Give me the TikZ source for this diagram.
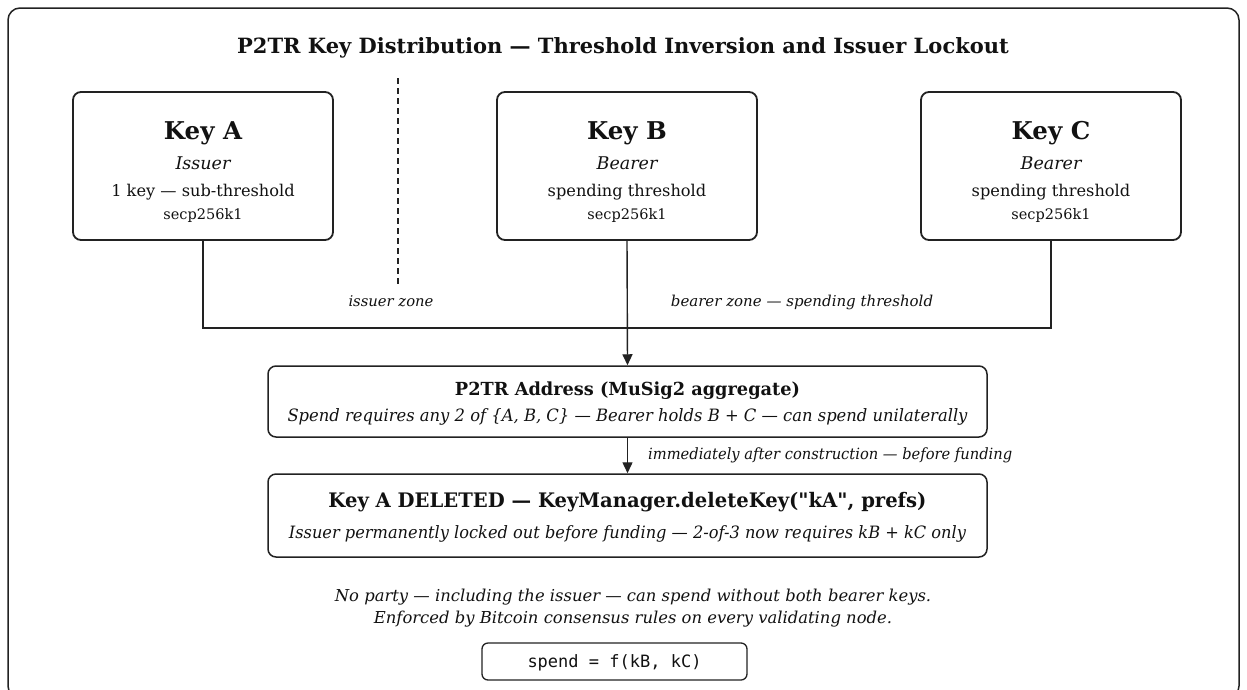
\documentclass[tikz,border=0pt]{standalone}
\usepackage{fontspec}
\usepackage{graphicx}
\setmainfont{DejaVu Serif}[Ligatures=TeXOff]
\setmonofont{DejaVu Sans Mono}
\usetikzlibrary{arrows.meta}
\definecolor{ink}{HTML}{111111}
\definecolor{linec}{HTML}{222222}
\tikzset{
  keybox/.style={draw=linec, line width=1.8pt, rounded corners=8pt, minimum width=260pt, minimum height=148pt, inner sep=0pt},
  widebox/.style={draw=linec, line width=1.5pt, rounded corners=8pt, minimum width=719pt, inner sep=0pt},
  monobox/.style={draw=linec, line width=1.3pt, rounded corners=6pt, minimum width=265pt, minimum height=37pt, inner sep=0pt},
  txt/.style={anchor=base, inner sep=0pt, text=ink},
  conn/.style={draw=linec, line width=1.4pt},
  arr/.style={conn, -{Triangle[length=11pt,width=10pt]}},
}
\newcommand\squeeze[2]{\resizebox{#1pt}{\height}{#2}}
\begin{document}
\begin{tikzpicture}[x=1pt,y=-1pt]
\useasboundingbox (0,0) rectangle (1247,689);
\begin{scope}
\clip (0,0) rectangle (1247,689);
\draw[linec, line width=1.5pt, rounded corners=12pt] (8,8) rectangle (1239,698);
\end{scope}
% title
\node[txt] (title) at (623,53) {\fontsize{21}{25}\selectfont\bfseries P2TR Key Distribution — Threshold Inversion and Issuer Lockout};
% key boxes
\node[keybox] (kA) at (203,166) {};
\node[keybox] (kB) at (627,166) {};
\node[keybox] (kC) at (1051,166) {};
\foreach \n/\x/\name/\role/\desc in {a/203/Key A/Issuer/1 key — sub-threshold, b/627/Key B/Bearer/spending threshold, c/1051/Key C/Bearer/spending threshold}{
  \node[txt] (\n1) at (\x,139) {\fontsize{24.5}{29}\selectfont\bfseries \name};
  \node[txt] (\n2) at (\x,169) {\fontsize{17.5}{21}\selectfont\itshape \role};
  \node[txt] (\n3) at (\x,196) {\fontsize{16.2}{19}\selectfont \desc};
  \node[txt] (\n4) at (\x,219.5) {\fontsize{14.5}{17}\selectfont secp256k1};
}
% dashed separator
\coordinate (dtop) at (398,78);
\coordinate (dbot) at (398,287);
\draw[linec, line width=1.4pt, dash pattern=on 6pt off 4pt] (dtop) -- (dbot);
% zone labels
\node[txt] (iz) at (391,306.5) {\fontsize{14.8}{17}\selectfont\itshape issuer zone};
\node[txt] (bz) at (802,306.5) {\fontsize{15}{17}\selectfont\itshape bearer zone — spending threshold};
% P2TR box
\node[widebox, minimum height=71pt] (p2tr) at (627.5,401.5) {};
\node[txt] (p2t) at (627.5,395.5) {\squeeze{345}{\fontsize{18}{21}\selectfont\bfseries P2TR Address (MuSig2 aggregate)}};
\node[txt] (p2s) at (627.5,421.5) {\squeeze{680}{\fontsize{17}{20}\selectfont\itshape Spend requires any 2 of \{A, B, C\} — Bearer holds B + C — can spend unilaterally}};
% deleted box
\node[widebox, minimum height=83pt] (del) at (627.5,515.5) {};
\node[txt] (delt) at (627.5,507) {\squeeze{598}{\fontsize{20}{24}\selectfont\bfseries Key A DELETED — KeyManager.deleteKey("kA", prefs)}};
\node[txt] (dels) at (627.5,538.5) {\squeeze{677}{\fontsize{17}{20}\selectfont\itshape Issuer permanently locked out before funding — 2-of-3 now requires kB + kC only}};
% connectors
\coordinate (bus) at (627,328);
\draw[conn] (kA.south) |- (bus) -| (kC.south);
\draw[arr] (kB.south) -- (p2tr.north);
\draw[arr] (p2tr.south) -- (del.north);
\node[txt, anchor=base west] (imm) at (648,459) {\squeeze{364}{\fontsize{15.5}{18}\selectfont\itshape immediately after construction — before funding}};
% footer
\node[txt] (f1) at (633,601.5) {\fontsize{16.4}{19}\selectfont\itshape No party — including the issuer — can spend without both bearer keys.};
\node[txt] (f2) at (633,623.5) {\fontsize{16.4}{19}\selectfont\itshape Enforced by Bitcoin consensus rules on every validating node.};
\node[monobox] (sp) at (614.5,661.5) {};
\node[txt] (spt) at (614.5,667.5) {\fontsize{17}{20}\selectfont\ttfamily spend = f(kB, kC)};
\end{tikzpicture}
\end{document}
